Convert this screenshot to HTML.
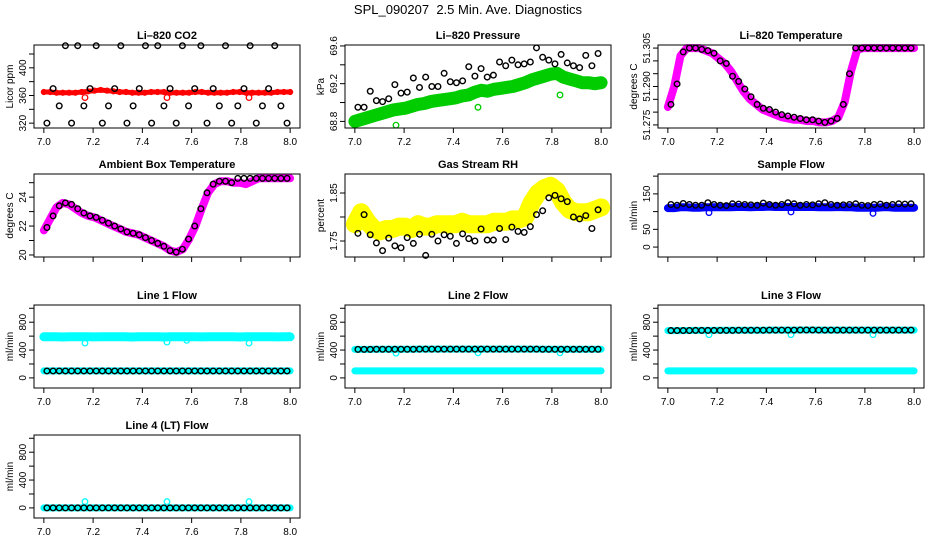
<!DOCTYPE html>
<html><head><meta charset="utf-8"><style>
html,body{margin:0;padding:0;background:#fff;width:936px;height:540px;overflow:hidden}
svg text{font-family:"Liberation Sans",Arial,sans-serif}
</style></head><body>
<svg id="c" width="936" height="540" viewBox="0 0 936 540" xmlns="http://www.w3.org/2000/svg">
<text x="468" y="14" text-anchor="middle" font-size="13">SPL_090207&#160; 2.5 Min. Ave. Diagnostics</text>
</svg>
<script>
// ---- data (hour of day on x, index-spaced) ----
const co2Black=[320,370,345,432,320,432,345,370,432,320,345,370,432,320,345,370,432,320,432,345,370,320,432,345,370,432,320,370,345,432,320,345,370,432,320,345,370,432,345,320];
const co2Red=[365,365,364,364,364,364,365,366,367,368,367,366,365,365,364,364,364,365,365,365,364,364,364,364,365,365,364,364,364,364,365,365,364,364,364,364,364,365,365,365];
const co2RedOut=[[7.167,357],[7.5,357],[7.833,357]];
const presBlack=[68.95,68.95,69.12,69.02,69.01,69.04,69.19,69.10,69.11,69.26,69.16,69.27,69.17,69.17,69.31,69.22,69.21,69.23,69.38,69.28,69.36,69.27,69.29,69.43,69.39,69.45,69.40,69.41,69.43,69.58,69.48,69.45,69.41,69.51,69.42,69.39,69.37,69.50,69.39,69.52];
const presGreen=[68.80,68.82,68.84,68.86,68.88,68.90,68.92,68.93,68.94,68.96,68.98,68.99,69.01,69.02,69.03,69.04,69.05,69.07,69.08,69.11,69.13,69.12,69.14,69.15,69.16,69.17,69.19,69.21,69.24,69.26,69.28,69.30,69.31,69.27,69.25,69.23,69.21,69.21,69.20,69.21];
const presGreenOut=[[7.167,68.76],[7.5,68.95],[7.833,69.08]];
const ltBlack=[51.283,51.291,51.3035,51.305,51.305,51.3045,51.304,51.303,51.300,51.299,51.294,51.292,51.289,51.286,51.283,51.2815,51.281,51.280,51.279,51.2785,51.278,51.2775,51.277,51.277,51.2765,51.276,51.2765,51.2775,51.283,51.295,51.305,51.305,51.305,51.305,51.305,51.305,51.305,51.305,51.305,51.305];
const ltMag=[51.282,51.290,51.302,51.305,51.305,51.305,51.304,51.303,51.301,51.299,51.296,51.292,51.288,51.285,51.283,51.281,51.280,51.279,51.278,51.2775,51.277,51.277,51.2765,51.2765,51.276,51.276,51.2765,51.278,51.284,51.296,51.3045,51.305,51.305,51.305,51.305,51.305,51.305,51.305,51.305,51.305];
const ambBlack=[21.9,22.7,23.4,23.6,23.5,23.2,22.9,22.7,22.6,22.4,22.2,22.0,21.8,21.6,21.5,21.4,21.2,21.0,20.8,20.6,20.3,20.2,20.4,21.1,22.0,23.2,24.3,24.9,25.1,25.1,25.0,25.3,25.3,25.3,25.3,25.3,25.3,25.3,25.3,25.3];
const ambMag=[21.7,22.5,23.3,23.6,23.5,23.2,22.9,22.7,22.6,22.4,22.2,22.0,21.8,21.6,21.5,21.4,21.2,21.0,20.8,20.6,20.3,20.2,20.4,21.1,22.0,23.2,24.3,24.9,25.1,25.1,25.0,25.0,24.9,25.1,25.3,25.3,25.3,25.3,25.3,25.3];
const rhBlack=[1.766,1.805,1.763,1.746,1.730,1.756,1.740,1.736,1.757,1.745,1.764,1.720,1.764,1.750,1.763,1.760,1.745,1.765,1.755,1.750,1.775,1.752,1.752,1.776,1.753,1.779,1.770,1.768,1.780,1.805,1.813,1.840,1.845,1.838,1.832,1.800,1.796,1.803,1.776,1.815];
const rhYel=[1.785,1.810,1.790,1.775,1.770,1.775,1.775,1.780,1.780,1.775,1.785,1.780,1.780,1.785,1.785,1.785,1.785,1.790,1.785,1.785,1.785,1.785,1.790,1.790,1.790,1.795,1.795,1.800,1.830,1.850,1.860,1.865,1.855,1.830,1.815,1.810,1.810,1.810,1.815,1.820];
const sfBlack=[120,118,123,120,118,118,125,120,118,117,122,121,120,119,118,124,120,118,120,125,122,118,120,119,122,125,120,118,119,120,122,118,117,120,121,118,120,122,121,122];
const sfBlue=[110,110,112,112,111,111,112,112,112,112,112,113,113,112,113,113,114,113,113,113,113,113,113,113,112,112,112,113,112,112,111,111,111,111,112,112,111,111,111,111];
const sfBlueOut=[[7.167,97],[7.5,99],[7.833,95]];
const l1Black=[100,100,100,100,100,100,100,100,100,100,100,100,100,100,100,100,100,100,100,100,100,100,100,100,100,100,100,100,100,100,100,100,100,100,100,100,100,100,100,100];
const l1CyanHi=[590,592,590,588,590,590,592,590,589,590,590,591,590,590,588,590,590,592,590,588,590,590,591,590,590,589,590,590,592,590,590,588,590,590,591,590,590,589,590,590];
const l1CyanLo=l1Black.map(v=>v);
const l1CyanOut=[[7.167,500],[7.5,515],[7.58,540],[7.833,500]];
const l2Black=[410,410,410,412,412,412,412,412,412,412,413,413,413,413,413,413,413,413,413,413,413,413,413,413,413,413,413,413,413,413,412,412,412,412,412,412,412,412,412,412];
const l2CyanHi=l2Black.map(v=>v);
const l2CyanLo=[100,100,100,100,100,100,100,100,100,100,100,100,100,100,100,100,100,100,100,100,100,100,100,100,100,100,100,100,100,100,100,100,100,100,100,100,100,100,100,100];
const l2CyanOut=[[7.167,355],[7.5,360],[7.833,360]];
const l3Black=[680,680,680,681,682,682,682,682,683,683,683,684,684,684,685,685,686,686,686,686,687,688,688,688,687,686,686,686,686,686,686,686,686,686,686,686,686,686,686,687];
const l3CyanHi=l3Black.map(v=>v);
const l3CyanLo=l2CyanLo.map(v=>v);
const l3CyanOut=[[7.167,620],[7.5,620],[7.833,620]];
const l4Black=l2CyanLo.map(()=>0);
const l4Cyan=l4Black.map(v=>v);
const l4CyanOut=[[7.167,90],[7.5,90],[7.833,90]];

const svg=document.getElementById('c');
const NS='http://www.w3.org/2000/svg';
function mk(tag,attrs,parent){const e=document.createElementNS(NS,tag);for(const k in attrs)e.setAttribute(k,attrs[k]);(parent||svg).appendChild(e);return e;}

function panel(cfg){
  const g=mk('g',{});
  
  
  const L=cfg.left,T=cfg.top,W=266,H=83;
  const xs=v=>L+(v-6.96)/(1.08)*W;
  const ys=v=>T+H-(v-cfg.ymin)/(cfg.ymax-cfg.ymin)*H;
  const t=mk('text',{x:L+W/2,y:T-6,'text-anchor':'middle','font-size':11,'font-weight':'bold'},g);
  t.textContent=cfg.title;
  
  
  (cfg.bands||[]).forEach(b=>{
    const n=b.data.length;
    const pts=b.data.map((v,i)=>xs(7+i/(n-1)).toFixed(1)+','+ys(v).toFixed(1)).join(' ');
    const pl=mk('polyline',{points:pts,fill:'none',stroke:b.color,'stroke-width':b.w,'stroke-linejoin':'round','stroke-linecap':'round'},g);
    
    
    b.data.forEach((v,i)=>{
      const c=mk('circle',{cx:xs(7+i/(n-1)),cy:ys(v),r:2.5,fill:'none',stroke:b.color,'stroke-width':1.2},g);
      
      
    });
  });
  (cfg.outs||[]).forEach(o=>{
    const c=mk('circle',{cx:xs(o[0]),cy:ys(o[1]),r:2.8,fill:'none',stroke:cfg.outColor,'stroke-width':1.3},g);
    
    
  });
  (cfg.black||[]).forEach((v,i,a)=>{
    const c=mk('circle',{cx:xs(7+(i+0.5)/a.length),cy:ys(v),r:2.8,fill:'none',stroke:'#000','stroke-width':1.4},g);
    
    
  });
  const box=mk('rect',{x:L,y:T,width:W,height:H,fill:'none',stroke:'#000','stroke-width':1},g);
  
  
  [7.0,7.2,7.4,7.6,7.8,8.0].forEach(v=>{
    mk('line',{x1:xs(v),x2:xs(v),y1:T+H,y2:T+H+5,stroke:'#000'},g);
    if(cfg.xlabels){
      const tx=mk('text',{x:xs(v),y:T+H+17,'text-anchor':'middle','font-size':10},g);
      tx.textContent=v.toFixed(1);
      
      
    }
  });
  cfg.yticks.forEach(v=>{
    mk('line',{x1:L,x2:L-5,y1:ys(v),y2:ys(v),stroke:'#000'},g);
  });
  const dec=cfg.ydec||0;
  cfg.ylabels.forEach(v=>{
    const tx=mk('text',{x:0,y:0,'text-anchor':'middle','font-size':10,transform:`translate(${L-8},${ys(v)}) rotate(-90)`},g);
    tx.textContent=dec?v.toFixed(dec):String(v);
    
    
  });
  const yt=mk('text',{x:0,y:0,'text-anchor':'middle','font-size':10,transform:`translate(${L-21},${T+H/2}) rotate(-90)`},g);
  yt.textContent=cfg.ytitle;
  
  
}
const C=[34,345,658], R=[45,174,305,435];
const flowTicks=[0,200,400,600,800,1000];
panel({name:'co2',title:'Li\u2013820 CO2',left:C[0],top:R[0],ymin:313,ymax:433,yticks:[320,340,360,380,400,420],ylabels:[320,360,400],ytitle:'Licor ppm',xlabels:true,bands:[{data:co2Red,color:'#f00',w:5}],outs:co2RedOut,outColor:'#f00',black:co2Black});
panel({name:'pressure',title:'Li\u2013820 Pressure',left:C[1],top:R[0],ymin:68.73,ymax:69.61,yticks:[68.8,69.0,69.2,69.4,69.6],ylabels:[68.8,69.2,69.6],ydec:1,ytitle:'kPa',xlabels:true,bands:[{data:presGreen,color:'#0c0',w:13}],outs:presGreenOut,outColor:'#0c0',black:presBlack});
panel({name:'licor-temp',title:'Li\u2013820 Temperature',left:C[2],top:R[0],ymin:51.2738,ymax:51.3062,yticks:[51.275,51.28,51.285,51.29,51.295,51.3,51.305],ylabels:[51.275,51.29,51.305],ydec:3,ytitle:'degrees C',xlabels:true,bands:[{data:ltMag,color:'#f0f',w:8}],black:ltBlack});
panel({name:'ambient',title:'Ambient Box Temperature',left:C[0],top:R[1],ymin:19.86,ymax:25.6,yticks:[20,21,22,23,24,25],ylabels:[20,22,24],ytitle:'degrees C',xlabels:false,bands:[{data:ambMag,color:'#f0f',w:8}],black:ambBlack});
panel({name:'rh',title:'Gas Stream RH',left:C[1],top:R[1],ymin:1.7167,ymax:1.8896,yticks:[1.75,1.8,1.85],ylabels:[1.75,1.85],ydec:2,ytitle:'percent',xlabels:false,bands:[{data:rhYel,color:'#ff0',w:18}],black:rhBlack});
panel({name:'sample-flow',title:'Sample Flow',left:C[2],top:R[1],ymin:-28,ymax:206,yticks:[0,50,100,150,200],ylabels:[0,50,150],ytitle:'ml/min',xlabels:false,bands:[{data:sfBlue,color:'#00f',w:8}],outs:sfBlueOut,outColor:'#00f',black:sfBlack});
panel({name:'line1-flow',title:'Line 1 Flow',left:C[0],top:R[2],ymin:-145,ymax:1047,yticks:flowTicks,ylabels:[0,400,800],ytitle:'ml/min',xlabels:true,bands:[{data:l1CyanHi,color:'#0ff',w:9},{data:l1CyanLo,color:'#0ff',w:7}],outs:l1CyanOut,outColor:'#0ff',black:l1Black});
panel({name:'line2-flow',title:'Line 2 Flow',left:C[1],top:R[2],ymin:-145,ymax:1047,yticks:flowTicks,ylabels:[0,400,800],ytitle:'ml/min',xlabels:true,bands:[{data:l2CyanHi,color:'#0ff',w:7},{data:l2CyanLo,color:'#0ff',w:7}],outs:l2CyanOut,outColor:'#0ff',black:l2Black});
panel({name:'line3-flow',title:'Line 3 Flow',left:C[2],top:R[2],ymin:-145,ymax:1047,yticks:flowTicks,ylabels:[0,400,800],ytitle:'ml/min',xlabels:true,bands:[{data:l3CyanHi,color:'#0ff',w:7},{data:l3CyanLo,color:'#0ff',w:7}],outs:l3CyanOut,outColor:'#0ff',black:l3Black});
panel({name:'line4-flow',title:'Line 4 (LT) Flow',left:C[0],top:R[3],ymin:-145,ymax:1047,yticks:flowTicks,ylabels:[0,400,800],ytitle:'ml/min',xlabels:true,bands:[{data:l4Cyan,color:'#0ff',w:7}],outs:l4CyanOut,outColor:'#0ff',black:l4Black});
</script>
</body></html>
